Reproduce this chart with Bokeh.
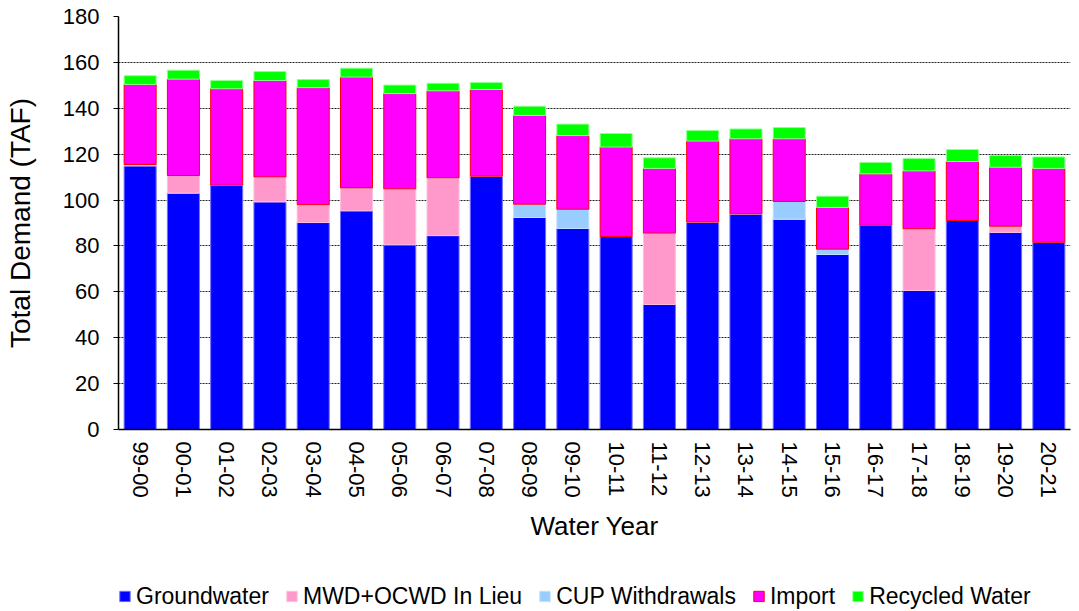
from bokeh.plotting import figure
from bokeh.models import Legend, LegendItem, ColumnDataSource
from bokeh.layouts import column
from bokeh.embed import file_html
from bokeh.resources import INLINE

years = ["99-00", "00-01", "01-02", "02-03", "03-04", "04-05", "05-06", "06-07",
         "07-08", "08-09", "09-10", "10-11", "11-12", "12-13", "13-14", "14-15",
         "15-16", "16-17", "17-18", "18-19", "19-20", "20-21"]
groundwater = [114.9, 103.0, 106.5, 99.2, 90.2, 95.3, 80.5, 84.5, 110.4, 92.4, 87.6,
               84.1, 54.5, 90.4, 94.0, 91.7, 76.3, 89.0, 60.6, 91.1, 85.9, 81.6]
in_lieu = [0.6, 7.7, 0.0, 10.9, 7.8, 10.0, 24.4, 25.2, 0.0, 0.0, 0.0,
           0.0, 31.1, 0.0, 0.0, 0.0, 0.0, 0.0, 26.9, 0.0, 2.7, 0.0]
cup = [0, 0, 0, 0, 0, 0, 0, 0, 0, 5.8, 8.4,
       0, 0, 0, 0, 7.7, 2.3, 0, 0, 0, 0, 0]
imports = [34.9, 42.0, 42.0, 42.0, 51.0, 48.3, 41.5, 37.9, 37.8, 38.7, 32.1,
           39.0, 28.2, 35.3, 32.7, 27.3, 18.2, 22.4, 25.2, 25.7, 25.7, 32.2]
recycled = [3.8, 3.9, 3.6, 3.9, 3.5, 3.9, 3.7, 3.3, 3.0, 4.0, 5.0,
            5.9, 4.6, 4.6, 4.3, 4.9, 4.9, 5.0, 5.4, 5.2, 5.1, 5.0]

series = ["Groundwater", "MWD+OCWD In Lieu", "CUP Withdrawals", "Import", "Recycled Water"]
keys = ["gw", "inlieu", "cup", "imp", "rec"]
fills = ["#0000FF", "#FF99CC", "#99CCFF", "#FF00FF", "#00FF00"]
lines = ["#7070FF", "#FFC0DD", "#C0E0FF", "#FF0000", "#90FF90"]

source = ColumnDataSource(dict(year=years, gw=groundwater, inlieu=in_lieu, cup=cup,
                               imp=imports, rec=recycled))

FONT = "Liberation Sans"

p = figure(x_range=years, y_range=(0, 180), output_backend="svg", toolbar_location=None,
           width=1076, height=581, min_border_left=118, min_border_top=16,
           min_border_right=6, min_border_bottom=152)

p.vbar_stack(keys, x="year", width=0.74, source=source,
             fill_color=fills, line_color=lines, line_width=1)

p.x_range.range_padding = 0
p.outline_line_color = None
p.background_fill_color = "white"

p.xgrid.grid_line_color = None
p.ygrid.grid_line_color = "#222222"
p.ygrid.grid_line_dash = "2 1"
p.ygrid.grid_line_width = 1

p.yaxis.ticker = list(range(0, 181, 20))
p.yaxis.axis_line_color = "black"
p.yaxis.axis_line_width = 1.5
p.yaxis.major_tick_out = 5
p.yaxis.major_tick_in = 0
p.yaxis.minor_tick_line_color = None
p.yaxis.major_label_standoff = 14
p.yaxis.major_label_text_font = FONT
p.yaxis.major_label_text_font_size = "22px"
p.yaxis.major_label_text_color = "black"
p.yaxis.axis_label = "Total Demand (TAF)"
p.yaxis.axis_label_text_font = FONT
p.yaxis.axis_label_text_font_size = "28px"
p.yaxis.axis_label_text_font_style = "normal"
p.yaxis.axis_label_text_color = "black"
p.yaxis.axis_label_standoff = 24

p.xaxis.axis_line_color = "black"
p.xaxis.axis_line_width = 1.5
p.xaxis.major_tick_out = 0
p.xaxis.major_tick_in = 0
p.xaxis.major_label_orientation = "vertical"
p.xaxis.major_label_standoff = 12
p.xaxis.major_label_text_font = FONT
p.xaxis.major_label_text_font_size = "22px"
p.xaxis.major_label_text_color = "black"
p.xaxis.axis_label = "Water Year"
p.xaxis.axis_label_text_font = FONT
p.xaxis.axis_label_text_font_size = "26px"
p.xaxis.axis_label_text_font_style = "normal"
p.xaxis.axis_label_text_color = "black"
p.xaxis.axis_label_standoff = 10

# legend strip below the chart (its own bars sit outside its visible range)
lg = figure(x_range=years, y_range=(1000, 1001), output_backend="svg", toolbar_location=None,
            width=1076, height=30, min_border_left=112, min_border_top=0,
            min_border_right=6, min_border_bottom=0,
            x_axis_location=None, y_axis_location=None)
lg.outline_line_color = None
lg.xgrid.grid_line_color = None
lg.ygrid.grid_line_color = None
lrends = lg.vbar_stack(keys, x="year", width=0.74, source=source,
                       fill_color=fills, line_color=lines, line_width=1)

legend = Legend(items=[LegendItem(label=s, renderers=[r]) for s, r in zip(series, lrends)],
                orientation="horizontal", location="center_left", padding=0, margin=0,
                spacing=16, label_standoff=5, glyph_width=13, glyph_height=13,
                border_line_color=None, background_fill_alpha=0,
                label_text_font=FONT, label_text_font_size="23px",
                label_text_color="black")
lg.add_layout(legend, "center")

layout = column(p, lg, spacing=0)
open("out.html", "w").write(file_html(layout, INLINE))
